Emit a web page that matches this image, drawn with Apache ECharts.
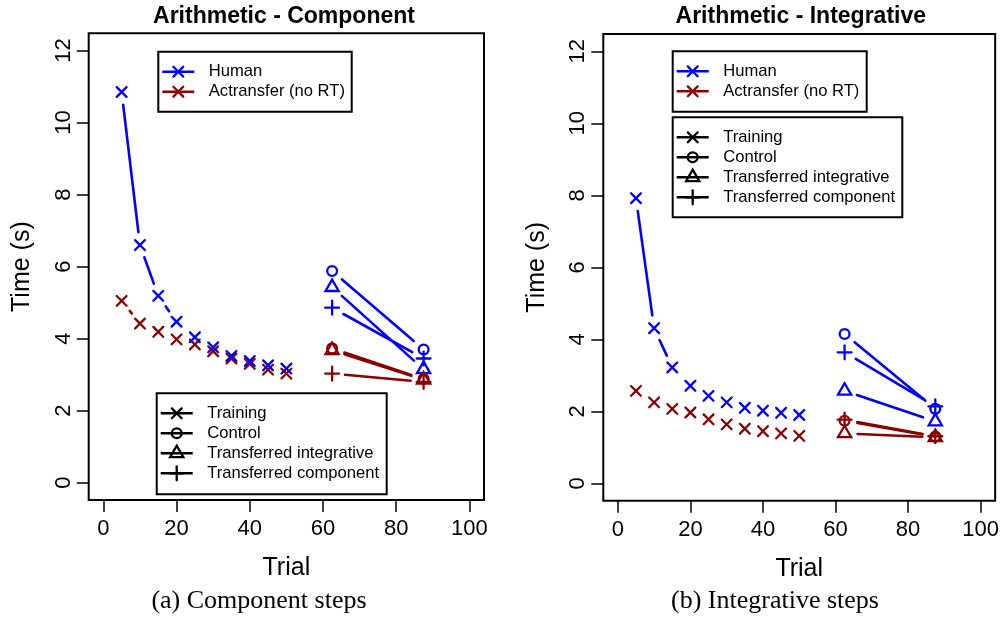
<!DOCTYPE html>
<html>
<head>
<meta charset="utf-8">
<script src="https://cdn.jsdelivr.net/npm/echarts@6/dist/echarts.min.js"></script>
<style>
  html, body { margin: 0; padding: 0; background: #fff; }
  #chart { width: 1002px; height: 624px; }
</style>
</head>
<body>
<div id="chart"></div>
<script>
// Trial positions
const trials = [5, 10, 15, 20, 25, 30, 35, 40, 45, 50];
const testTrials = [62.5, 87.5];
const xTicks = [0, 20, 40, 60, 80, 100];
const yTicks = [0, 2, 4, 6, 8, 10, 12];

// (a) Component steps — mean time per step (s)
const compHumanTraining = [10.85, 6.60, 5.19, 4.47, 4.04, 3.76, 3.52, 3.38, 3.26, 3.17];
const compModelTraining = [5.05, 4.42, 4.19, 3.98, 3.84, 3.65, 3.45, 3.30, 3.14, 3.03];
const compHumanControl = [5.88, 3.70];
const compHumanTransInt = [5.43, 3.15];
const compHumanTransComp = [4.86, 3.45];
const compModelControl = [3.73, 2.88];
const compModelTransInt = [3.68, 2.86];
const compModelTransComp = [3.03, 2.80];

// (b) Integrative steps — mean time per step (s)
const integHumanTraining = [7.92, 4.31, 3.22, 2.71, 2.43, 2.25, 2.10, 2.02, 1.96, 1.90];
const integModelTraining = [2.57, 2.25, 2.07, 1.97, 1.78, 1.64, 1.52, 1.45, 1.39, 1.32];
const integHumanControl = [4.15, 2.07];
const integHumanTransInt = [2.57, 1.72];
const integHumanTransComp = [3.64, 2.14];
const integModelControl = [1.74, 1.30];
const integModelTransInt = [1.39, 1.28];
const integModelTransComp = [1.77, 1.31];

const titles = ['Arithmetic - Component', 'Arithmetic - Integrative'];
const captions = ['(a) Component steps', '(b) Integrative steps'];
const groupLabels = ['Human', 'Actransfer (no RT)'];
const conditionLabels = ['Training', 'Control', 'Transferred integrative', 'Transferred component'];

const BLUE = '#0000ff';
const RED = '#8b0000';
const SANS = '"Liberation Sans", Arial, Helvetica, sans-serif';
const SERIF = '"Liberation Serif", "Times New Roman", serif';

// plotting-symbol geometry (R-style pch 4, 1, 2, 3)
const SYM_R = 4.9;
const SYM_W = 2.3;
const LINE_W = 2.6;
const GAP = 13;

function markerShapes(kind, cx, cy, color) {
  const st = { stroke: color, lineWidth: SYM_W, fill: 'none', lineCap: 'round' };
  const R = SYM_R;
  if (kind === 'x') {
    return [
      { type: 'line', shape: { x1: cx - R, y1: cy - R, x2: cx + R, y2: cy + R }, style: st },
      { type: 'line', shape: { x1: cx - R, y1: cy + R, x2: cx + R, y2: cy - R }, style: st }
    ];
  }
  if (kind === 'circle') {
    return [{ type: 'circle', shape: { cx: cx, cy: cy, r: R }, style: st }];
  }
  if (kind === 'triangle') {
    const hw = 1.3468 * R, top = 1.5551 * R, bot = 0.7776 * R;
    return [{ type: 'polygon', shape: { points: [[cx, cy - top], [cx + hw, cy + bot], [cx - hw, cy + bot]] }, style: st }];
  }
  const p = 1.4142 * R;
  return [
    { type: 'line', shape: { x1: cx - p, y1: cy, x2: cx + p, y2: cy }, style: st },
    { type: 'line', shape: { x1: cx, y1: cy - p, x2: cx, y2: cy + p }, style: st }
  ];
}

// line between two points, leaving a gap around each symbol
function gapSegment(a, b, color) {
  const dx = b[0] - a[0], dy = b[1] - a[1];
  const d = Math.hypot(dx, dy);
  if (d <= 2 * GAP) return null;
  const ux = dx / d, uy = dy / d;
  return {
    type: 'line',
    shape: { x1: a[0] + ux * GAP, y1: a[1] + uy * GAP, x2: b[0] - ux * GAP, y2: b[1] - uy * GAP },
    style: { stroke: color, lineWidth: LINE_W, lineCap: 'round' }
  };
}

function pairs(xs, ys) { return xs.map((x, i) => [x, ys[i]]); }

function pointsLine(name, xs, ys, kind, color, gridIndex) {
  const data = pairs(xs, ys);
  return {
    type: 'custom',
    name: name,
    xAxisIndex: gridIndex,
    yAxisIndex: gridIndex,
    data: data,
    encode: { x: 0, y: 1 },
    silent: true,
    renderItem: function (params, api) {
      const i = params.dataIndex;
      const c = api.coord(data[i]);
      const children = markerShapes(kind, c[0], c[1], color);
      if (i < data.length - 1) {
        const seg = gapSegment(c, api.coord(data[i + 1]), color);
        if (seg) children.push(seg);
      }
      return { type: 'group', children: children };
    }
  };
}

function legendBox(x, y, w, h, rows) {
  const children = [{
    type: 'rect', shape: { x: x, y: y, width: w, height: h },
    style: { fill: '#fff', stroke: '#000', lineWidth: 2 }
  }];
  rows.forEach(function (r, k) {
    const ry = y + 20 + 20 * k;
    children.push({
      type: 'line', shape: { x1: x + 4, y1: ry, x2: x + 36, y2: ry },
      style: { stroke: r.color, lineWidth: LINE_W }
    });
    markerShapes(r.kind, x + 20, ry, r.color).forEach(s => children.push(s));
    children.push({
      type: 'text', x: x + 50.5, y: ry,
      style: { text: r.label, font: '16.6px ' + SANS, fill: '#000', align: 'left', verticalAlign: 'middle' }
    });
  });
  return { type: 'group', z: 100, children: children };
}

const grids = [
  { left: 88.7, top: 33.3, width: 395.3, height: 466.7 },
  { left: 603.3, top: 34, width: 395, height: 466.7 }
];

function xAxisFor(i) {
  return {
    gridIndex: i, type: 'value', min: -4, max: 104,
    axisLine: { show: false, onZero: false }, splitLine: { show: false },
    axisTick: { show: true, inside: false, customValues: xTicks, length: 12, lineStyle: { color: '#000', width: 1.5 } },
    axisLabel: { customValues: xTicks, fontSize: 22, color: '#000', fontFamily: SANS, margin: 18 },
    name: 'Trial', nameLocation: 'middle', nameGap: 56,
    nameTextStyle: { fontSize: 25, color: '#000', fontFamily: SANS }
  };
}
function yAxisFor(i) {
  return {
    gridIndex: i, type: 'value', min: -0.48, max: 12.48,
    axisLine: { show: false, onZero: false }, splitLine: { show: false },
    axisTick: { show: true, inside: false, customValues: yTicks, length: 12, lineStyle: { color: '#000', width: 1.5 } },
    axisLabel: { customValues: yTicks, fontSize: 22, color: '#000', fontFamily: SANS, margin: 14, rotate: 90 },
    name: 'Time (s)', nameLocation: 'middle', nameGap: 54, nameRotate: 90,
    nameTextStyle: { fontSize: 25, color: '#000', fontFamily: SANS }
  };
}

const panels = [
  {
    humanTrain: compHumanTraining, modelTrain: compModelTraining,
    human: [compHumanControl, compHumanTransInt, compHumanTransComp],
    model: [compModelControl, compModelTransInt, compModelTransComp]
  },
  {
    humanTrain: integHumanTraining, modelTrain: integModelTraining,
    human: [integHumanControl, integHumanTransInt, integHumanTransComp],
    model: [integModelControl, integModelTransInt, integModelTransComp]
  }
];
const testKinds = ['circle', 'triangle', 'plus'];

const series = [];
panels.forEach(function (p, g) {
  series.push(pointsLine(groupLabels[1] + ' ' + conditionLabels[0], trials, p.modelTrain, 'x', RED, g));
  series.push(pointsLine(groupLabels[0] + ' ' + conditionLabels[0], trials, p.humanTrain, 'x', BLUE, g));
  testKinds.forEach(function (kind, k) {
    series.push(pointsLine(groupLabels[0] + ' ' + conditionLabels[k + 1], testTrials, p.human[k], kind, BLUE, g));
    series.push(pointsLine(groupLabels[1] + ' ' + conditionLabels[k + 1], testTrials, p.model[k], kind, RED, g));
  });
});

const groupRows = [
  { label: groupLabels[0], color: BLUE, kind: 'x' },
  { label: groupLabels[1], color: RED, kind: 'x' }
];
const conditionRows = conditionLabels.map((label, k) => ({
  label: label, color: '#000', kind: ['x', 'circle', 'triangle', 'plus'][k]
}));

const graphic = [
  { type: 'text', x: 284, y: 17, style: { text: titles[0], font: 'bold 23px ' + SANS, fill: '#000', align: 'center', verticalAlign: 'middle' } },
  { type: 'text', x: 800.8, y: 17, style: { text: titles[1], font: 'bold 23px ' + SANS, fill: '#000', align: 'center', verticalAlign: 'middle' } },
  { type: 'text', x: 259, y: 601.5, style: { text: captions[0], font: '26px ' + SERIF, fill: '#000', align: 'center', verticalAlign: 'middle' } },
  { type: 'text', x: 775, y: 601.5, style: { text: captions[1], font: '26px ' + SERIF, fill: '#000', align: 'center', verticalAlign: 'middle' } },
  legendBox(158.3, 51.7, 193.4, 60, groupRows),
  legendBox(156.7, 393.3, 230, 101, conditionRows),
  legendBox(672.7, 51.3, 194, 60.4, groupRows),
  legendBox(672.7, 117.3, 229.6, 100, conditionRows)
];

const chart = echarts.init(document.getElementById('chart'), null, { renderer: 'canvas' });
chart.setOption({
  animation: false,
  backgroundColor: '#fff',
  grid: grids.map(g => Object.assign({ show: true, borderColor: '#000', borderWidth: 2, backgroundColor: 'transparent' }, g)),
  xAxis: [xAxisFor(0), xAxisFor(1)],
  yAxis: [yAxisFor(0), yAxisFor(1)],
  series: series,
  graphic: graphic
});
</script>
</body>
</html>
